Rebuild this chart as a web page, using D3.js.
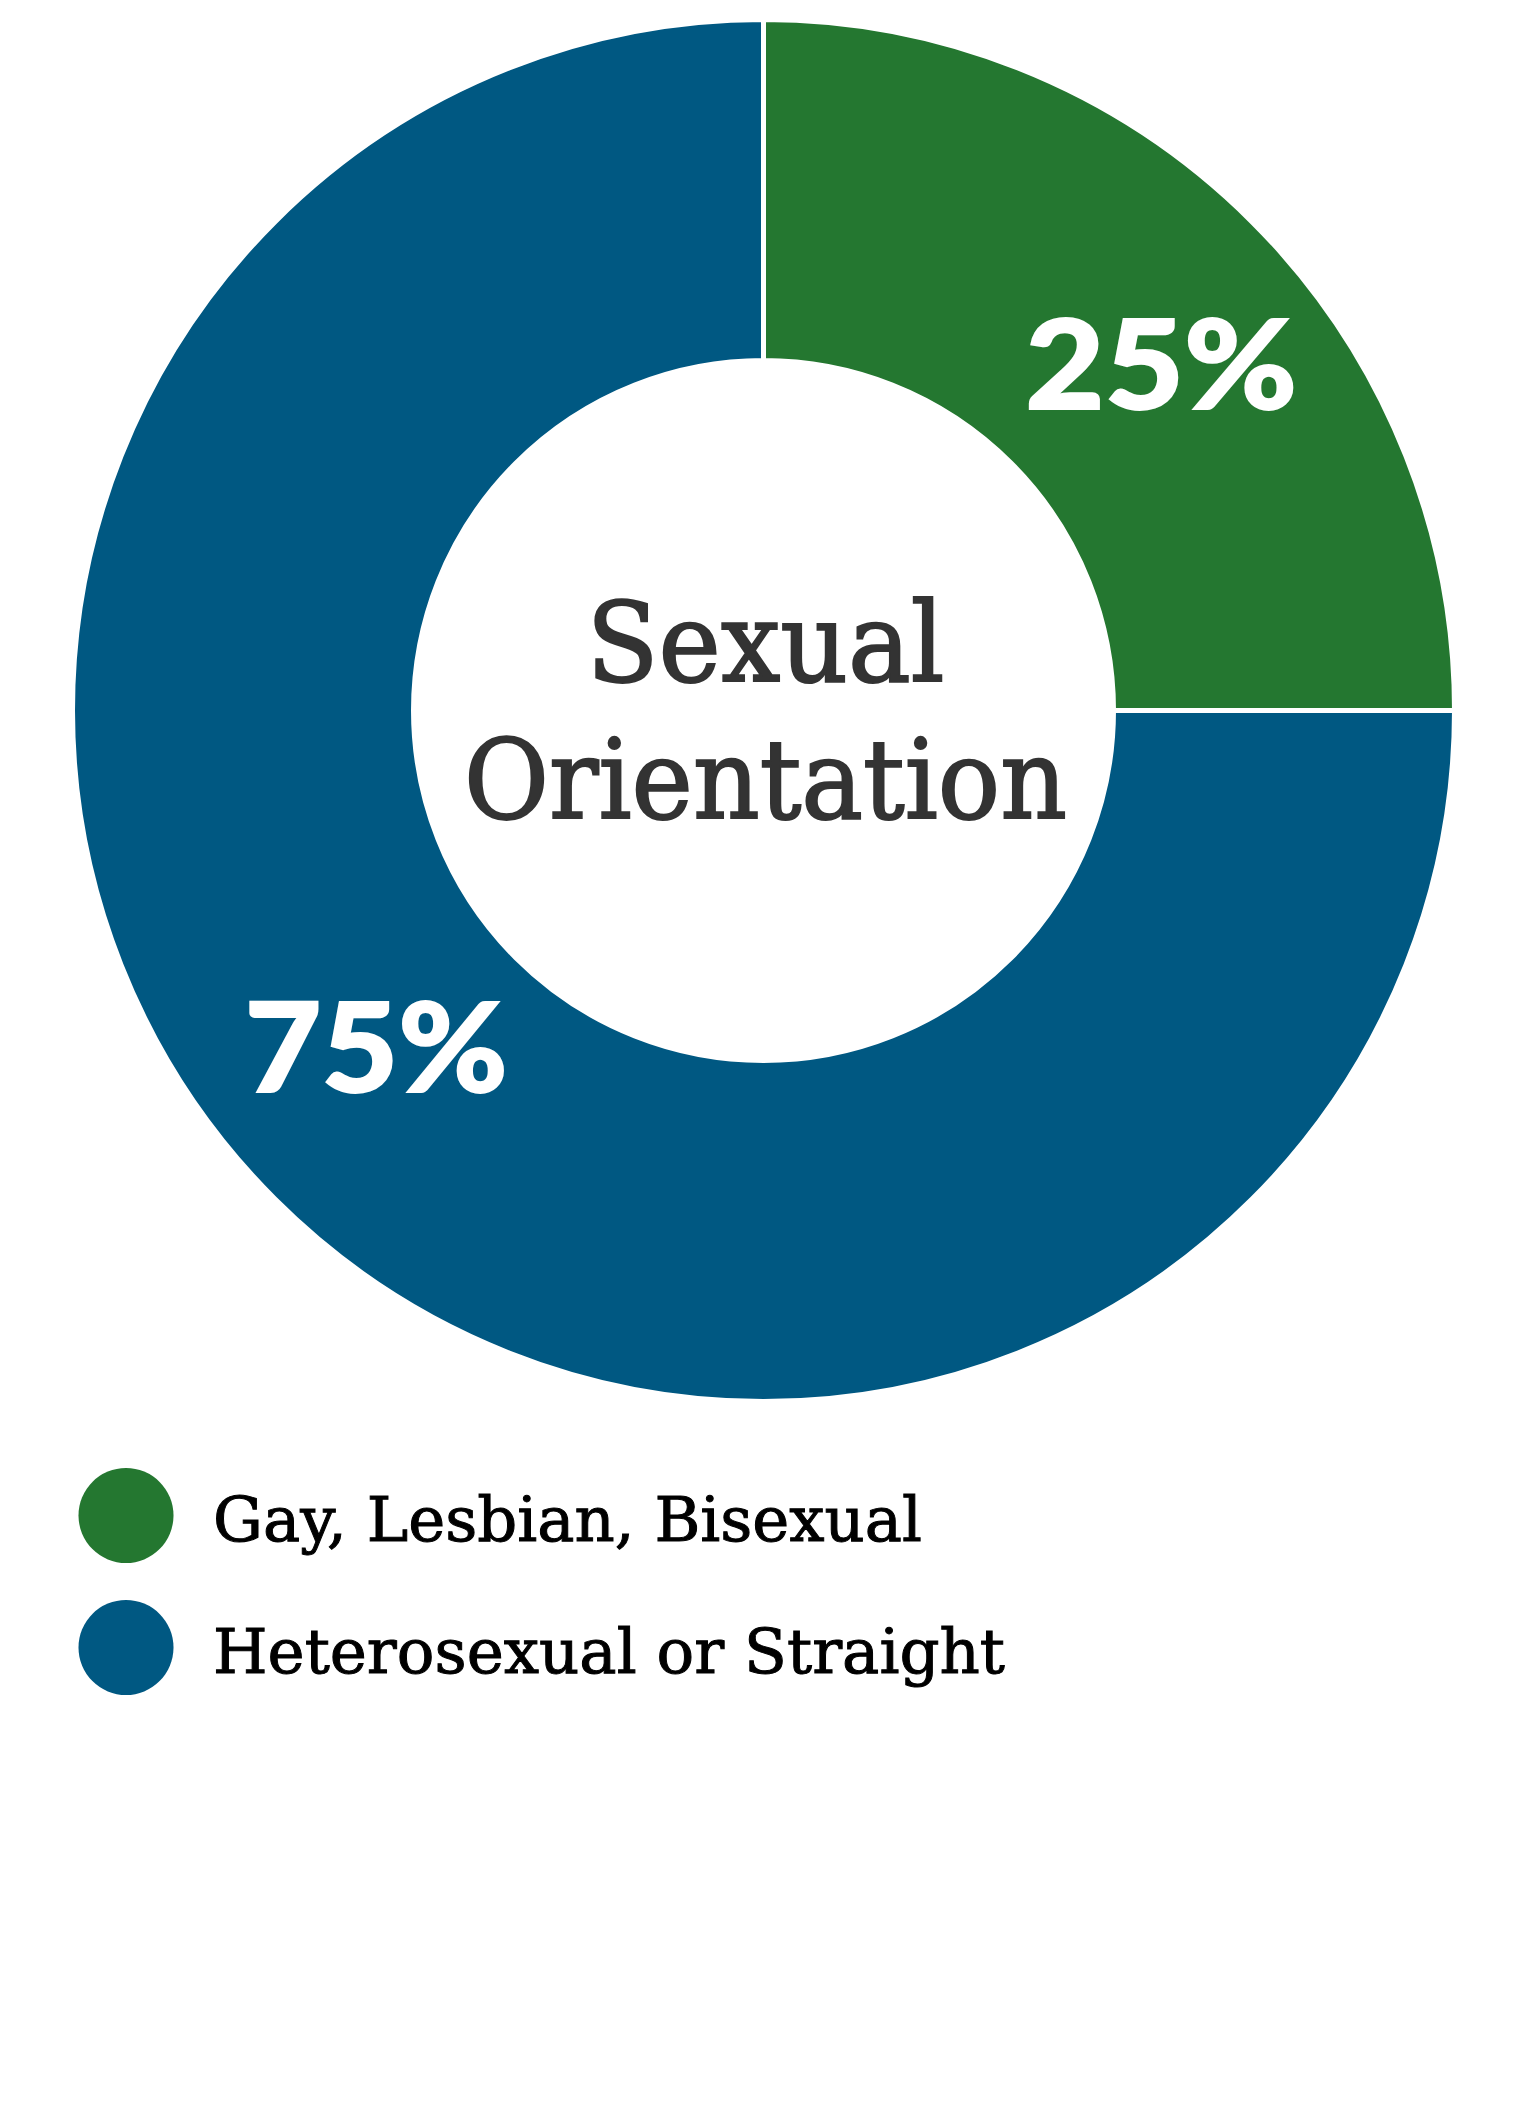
<!DOCTYPE html>
<html>
<head>
<meta charset="utf-8">
<script src="https://cdn.jsdelivr.net/npm/d3@7"></script>
<style>
  html, body { margin: 0; padding: 0; background: #fff; }
  svg { display: block; }
</style>
</head>
<body>
<svg id="chart"></svg>
<script>
// Data
const categories = ["Gay, Lesbian, Bisexual", "Heterosexual or Straight"];
const values = [25, 75];
const labels = ["25%", "75%"];
const colors = ["#247730", "#005882"];
const centerTitle = ["Sexual", "Orientation"];

const width = 1528, height = 2113;
const svg = d3.select("#chart").attr("width", width).attr("height", height);

const cx = 763.5, cy = 710.5;
const outerR = 691, innerR = 350;

const pie = d3.pie().sort(null).value(d => d)(values);
const arc = d3.arc().innerRadius(innerR).outerRadius(outerR);

const g = svg.append("g").attr("transform", `translate(${cx},${cy})`);

g.selectAll("path")
  .data(pie)
  .join("path")
  .attr("d", arc)
  .attr("fill", (d, i) => colors[i])
  .attr("stroke", "#fff")
  .attr("stroke-width", 5);

// percent labels, placed a little clockwise of each slice's middle
const labelR = [527, 513];
const labelWidths = [272, 263];
g.selectAll("text.pct")
  .data(pie)
  .join("text")
  .attr("class", "pct")
  .attr("transform", (d, i) => {
    const a = (d.startAngle + d.endAngle) / 2 + 0.07;
    return `translate(${Math.sin(a) * labelR[i]},${-Math.cos(a) * labelR[i]})`;
  })
  .attr("text-anchor", "middle")
  .attr("dy", "0.36em")
  .attr("font-family", "Lato, 'Open Sans', sans-serif")
  .attr("font-weight", 900)
  .attr("font-size", 124)
  .attr("fill", "#fff")
  .attr("stroke", "#fff")
  .attr("stroke-width", 2)
  .attr("textLength", (d, i) => labelWidths[i])
  .attr("lengthAdjust", "spacingAndGlyphs")
  .text((d, i) => labels[i]);

// center title
const titleWidths = [358, 603];
g.selectAll("text.title")
  .data(centerTitle)
  .join("text")
  .attr("class", "title")
  .attr("x", 2)
  .attr("y", (d, i) => -30 + i * 137)
  .attr("text-anchor", "middle")
  .attr("font-family", "'DejaVu Serif', serif")
  .attr("font-size", 110)
  .attr("fill", "#333")
  .attr("stroke", "#333")
  .attr("stroke-width", 2)
  .attr("textLength", (d, i) => titleWidths[i])
  .attr("lengthAdjust", "spacingAndGlyphs")
  .text(d => d);

// legend
const legendY = d3.scalePoint().domain(categories).range([1515.5, 1647.5]);
const legendWidths = [709, 792];
const legend = svg.append("g")
  .selectAll("g")
  .data(categories)
  .join("g")
  .attr("transform", d => `translate(126,${legendY(d)})`);

legend.append("circle")
  .attr("r", 47.5)
  .attr("fill", (d, i) => colors[i]);

legend.append("text")
  .attr("x", 87)
  .attr("y", 25)
  .attr("font-family", "'DejaVu Serif', serif")
  .attr("font-size", 62)
  .attr("fill", "#000")
  .attr("stroke", "#000")
  .attr("stroke-width", 1)
  .attr("textLength", (d, i) => legendWidths[i])
  .attr("lengthAdjust", "spacingAndGlyphs")
  .text(d => d);
</script>
</body>
</html>
